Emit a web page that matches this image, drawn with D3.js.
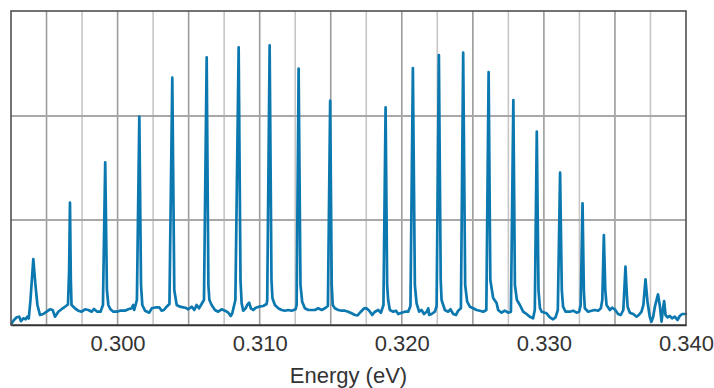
<!DOCTYPE html>
<html>
<head>
<meta charset="utf-8">
<script src="https://cdn.jsdelivr.net/npm/d3@7/dist/d3.min.js"></script>
<style>
  html, body { margin: 0; padding: 0; background: #fff; }
  svg { display: block; }
  text { font-family: "Liberation Sans", Arial, sans-serif; fill: #333; }
</style>
</head>
<body>
<svg id="chart" width="714" height="388"></svg>
<script>
// Photon energy (eV) of each sample
const energy = [
  0.29255,0.29271,0.29290,0.29308,0.29320,0.29337,0.29353,0.29365,0.29375,0.29387,
  0.29407,0.29422,0.29436,0.29454,0.29477,0.29501,0.29524,0.29543,0.29560,0.29583,
  0.29614,0.29637,0.29651,0.29659,0.29665,0.29671,0.29676,0.29700,0.29723,0.29747,
  0.29771,0.29794,0.29818,0.29834,0.29857,0.29880,0.29897,0.29913,0.29925,0.29935,
  0.29950,0.29970,0.29994,0.30017,0.30052,0.30075,0.30099,0.30110,0.30117,0.30136,
  0.30153,0.30165,0.30174,0.30193,0.30223,0.30240,0.30275,0.30293,0.30310,0.30326,
  0.30345,0.30365,0.30385,0.30399,0.30416,0.30439,0.30462,0.30486,0.30497,0.30521,
  0.30540,0.30556,0.30573,0.30587,0.30608,0.30627,0.30639,0.30646,0.30662,0.30685,
  0.30708,0.30732,0.30756,0.30779,0.30796,0.30807,0.30829,0.30852,0.30865,0.30873,
  0.30884,0.30901,0.30912,0.30926,0.30938,0.30955,0.30972,0.30995,0.31025,0.31049,
  0.31053,0.31070,0.31083,0.31090,0.31107,0.31131,0.31154,0.31178,0.31201,0.31225,
  0.31253,0.31260,0.31274,0.31287,0.31299,0.31318,0.31342,0.31365,0.31389,0.31412,
  0.31436,0.31459,0.31480,0.31496,0.31507,0.31514,0.31529,0.31553,0.31577,0.31600,
  0.31623,0.31647,0.31670,0.31689,0.31712,0.31736,0.31752,0.31771,0.31792,0.31811,
  0.31834,0.31853,0.31871,0.31886,0.31897,0.31904,0.31916,0.31940,0.31959,0.31975,
  0.31999,0.32022,0.32045,0.32061,0.32078,0.32092,0.32104,0.32122,0.32139,0.32156,
  0.32175,0.32186,0.32193,0.32210,0.32233,0.32245,0.32261,0.32274,0.32280,0.32303,
  0.32326,0.32343,0.32362,0.32381,0.32397,0.32416,0.32432,0.32446,0.32460,0.32479,
  0.32502,0.32526,0.32549,0.32573,0.32595,0.32611,0.32623,0.32643,0.32667,0.32678,
  0.32702,0.32725,0.32749,0.32768,0.32785,0.32796,0.32810,0.32831,0.32854,0.32878,
  0.32901,0.32924,0.32936,0.32950,0.32962,0.32972,0.32984,0.33019,0.33042,0.33065,
  0.33082,0.33098,0.33114,0.33126,0.33135,0.33152,0.33183,0.33206,0.33230,0.33248,
  0.33259,0.33272,0.33281,0.33288,0.33311,0.33335,0.33358,0.33382,0.33401,0.33411,
  0.33422,0.33432,0.33441,0.33464,0.33480,0.33499,0.33522,0.33541,0.33559,0.33574,
  0.33584,0.33589,0.33605,0.33628,0.33652,0.33668,0.33687,0.33700,0.33715,0.33729,
  0.33745,0.33757,0.33769,0.33781,0.33803,0.33816,0.33828,0.33837,0.33846,0.33856,
  0.33870,0.33886,0.33902,0.33921,0.33940,0.33956,0.33973,0.33999
];
// Detected signal (arbitrary units) at each energy
const intensity = [
  1.7,5,7.7,8.3,4,6.7,5.7,8.3,6.5,25,
  66,40,20,10,11,13.3,15.7,15,8.3,13.3,
  16.7,19,20.5,55,122.3,45,20,16.7,14.3,13.3,
  15.7,15,13.3,16,13.3,13.3,20,162.7,35,20,
  15.7,13.3,13.3,14.3,14.3,15.7,16.7,20,15,25,
  208.3,40,20,14.3,12.3,16.7,17.7,17.7,14.3,15,
  18.3,21,247.3,35,20,18.3,17.7,16.7,15.7,18.3,
  15,20,16.7,20,25,267.7,40,25,20,15,
  13.3,15.7,14.3,12.3,9,11.7,25,277.7,45,21.7,
  14.3,16.7,20,22.3,16.7,15,17.3,18.3,19,21,
  25,279.7,45,26.7,20,16.7,15,14.3,15,14.3,
  15.7,20,256.3,40,23.3,16.7,15,15,15,16.7,
  15,16.7,19,224.3,40,20,16.7,15,14.3,14.3,
  13.3,11.7,10,9.7,13.3,16.7,16.7,14.3,10,13.3,
  15,12.3,20,217.7,40,25,15,13.3,14.3,11,
  12.3,13.3,13.3,19,257,40,21.7,13.3,15,11,
  13.3,16.7,10,11,13.3,19,270,45,25,15,
  13.3,15.7,11,10,14.3,16.7,272.3,40,23.3,18.3,
  16.7,15,14.3,13.3,15,253,45,27,22,15,
  12.3,14.3,12.3,13.3,225,40,25,20,13.3,11,
  8.3,6.7,15,193.3,35,17,13.3,11.7,7.7,5.7,
  7.7,15,152.3,35,18.3,13.3,13.3,14.3,12.3,13.3,
  20,121.7,35,16.7,13.3,14.3,15,14.3,16.7,25,
  90,35,20,15,17.3,15.7,11,10,15,58.3,
  30,18.3,12.3,11,8.3,10,13.3,20,45.7,23.3,
  8.3,3.3,8.3,18.3,30.7,19,3.3,15,24,10,
  7.7,9,6.7,8.3,5,9,11,11
];
const xDomain = [0.2925, 0.340];
const yDomain = [0, 314];
const xTickLabels = [0.300, 0.310, 0.320, 0.330, 0.340];
const xGrid = [0.295, 0.2975, 0.300, 0.3025, 0.305, 0.3075, 0.310, 0.3125, 0.315, 0.3175,
               0.320, 0.3225, 0.325, 0.3275, 0.330, 0.3325, 0.335, 0.3375];
const yGrid = [105, 209];
const xTitle = "Energy (eV)";

const svg = d3.select("#chart");
const L = 11, R = 686, T = 11, B = 325;
const x = d3.scaleLinear().domain(xDomain).range([L, R]);
const y = d3.scaleLinear().domain(yDomain).range([B, T]);

// vertical grid
svg.append("g").selectAll("line").data(xGrid).join("line")
  .attr("x1", d => x(d)).attr("x2", d => x(d))
  .attr("y1", T).attr("y2", B)
  .attr("stroke", d => Math.abs(Math.round(d * 200) - d * 200) < 1e-6 ? "#9c9c9c" : "#c6c6c6")
  .attr("stroke-width", 1.6);

// horizontal grid
svg.append("g").selectAll("line").data(yGrid).join("line")
  .attr("x1", L).attr("x2", R)
  .attr("y1", d => y(d)).attr("y2", d => y(d))
  .attr("stroke", "#a8a8a8").attr("stroke-width", 2);

// spectrum line
const line = d3.line().x((d, i) => x(energy[i])).y(d => y(d));
svg.append("path")
  .datum(intensity)
  .attr("d", line)
  .attr("fill", "none")
  .attr("stroke", "#0b78b0")
  .attr("stroke-width", 2.7)
  .attr("stroke-linejoin", "round")
  .attr("stroke-linecap", "round");

// frame
svg.append("rect")
  .attr("x", L).attr("y", T).attr("width", R - L).attr("height", B - T)
  .attr("fill", "none").attr("stroke", "#505050").attr("stroke-width", 1.6);

// x axis
const xAxis = d3.axisBottom(x).tickValues(xTickLabels).tickFormat(d3.format(".3f")).tickSize(0).tickPadding(10);
const gx = svg.append("g").attr("transform", `translate(0,${B})`).call(xAxis);
gx.select(".domain").attr("stroke", "#333").attr("stroke-width", 1.6);
gx.selectAll("text").attr("font-size", 22).attr("fill", "#333")
  .style("font-family", "'Liberation Sans', Arial, sans-serif");

svg.append("text")
  .attr("x", (L + R) / 2).attr("y", 383)
  .attr("text-anchor", "middle")
  .attr("font-size", 22)
  .text(xTitle);
</script>
</body>
</html>
